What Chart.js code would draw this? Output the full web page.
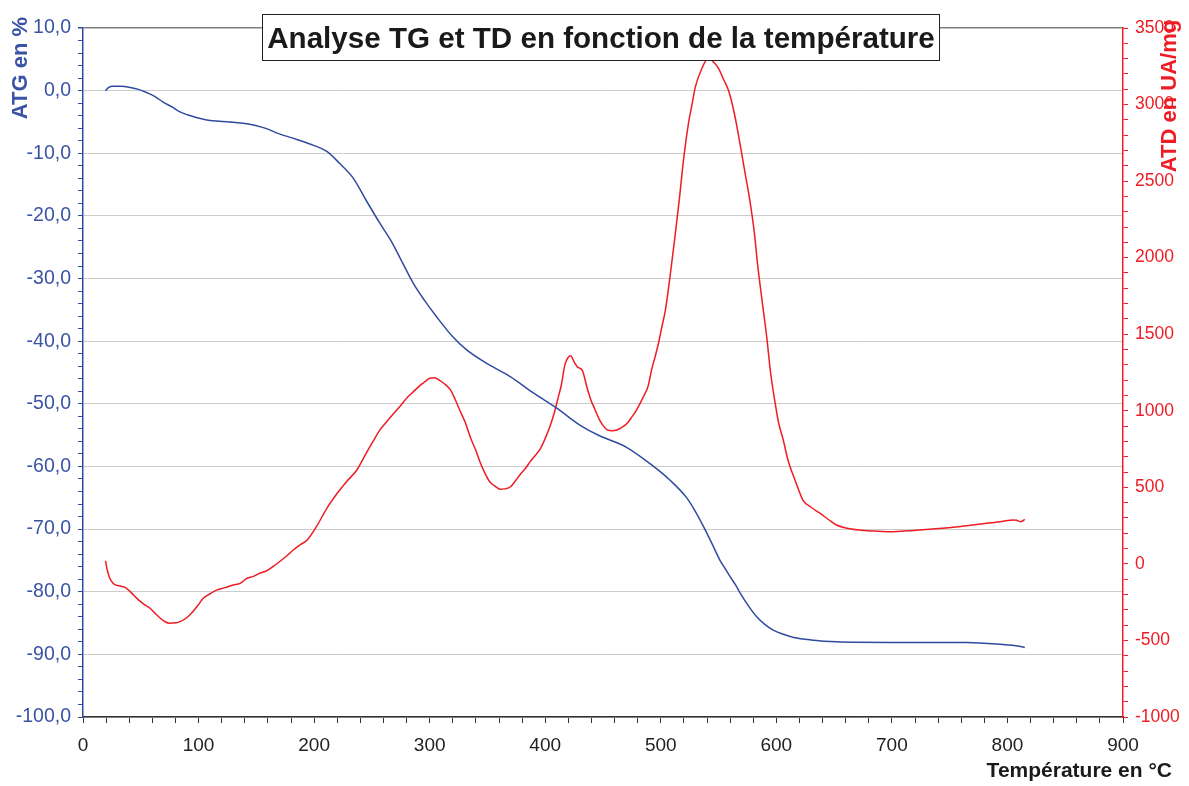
<!DOCTYPE html>
<html lang="fr">
<head>
  <meta charset="UTF-8">
  <title>Analyse TG et TD</title>
  <script src="https://cdn.jsdelivr.net/npm/chart.js@4.4.0/dist/chart.umd.min.js"></script>
  <style>
    body { margin: 0; background: #ffffff; }
    #wrap { width: 1189px; height: 786px; }
  </style>
</head>
<body>
<div id="wrap"><canvas id="myChart" width="1189" height="786"></canvas></div>

<script>
// ATG : perte de masse (%) en fonction de la température (°C)
var tgTemp = [19.5, 22, 26, 33, 41, 48, 55, 62, 69, 77, 84, 91, 98, 105, 112, 127, 142, 156, 170, 185,
  199, 211, 222, 234, 245, 257, 266, 276, 286, 296, 306, 320, 332, 349, 370, 390, 410, 430, 447, 470,
  491, 508, 522, 530, 537, 544, 551, 556, 560, 565, 569, 576, 583, 590, 597, 606, 615, 630, 652, 700,
  765, 794, 810, 815];
var tgVal = [0.0, 0.5, 0.7, 0.7, 0.5, 0.2, -0.3, -0.9, -1.8, -2.6, -3.4, -3.9, -4.3, -4.6, -4.8, -5.0, -5.3, -5.9, -6.9, -7.8,
  -8.7, -9.7, -11.6, -14.0, -17.5, -21.2, -23.8, -27.3, -30.8, -33.6, -36.1, -39.3, -41.4, -43.5, -45.7, -48.3, -50.7, -53.4, -55.1, -56.9,
  -59.6, -62.2, -64.9, -67.2, -69.6, -72.2, -74.9, -76.4, -77.6, -79.0, -80.3, -82.3, -84.0, -85.2, -86.1, -86.8, -87.3, -87.7, -88.0, -88.1,
  -88.1, -88.4, -88.7, -88.9];

// ATD : signal en UA/mg
var tdTemp = [19.5, 21, 23, 26, 29, 32, 36, 40, 44, 49, 54, 58, 62, 67, 71, 75, 80, 84, 90, 95,
  100, 104, 110, 116, 123, 130, 136, 142, 147, 153, 159, 165, 170, 176, 182, 188, 194, 202, 211, 220,
  228, 237, 245, 251, 257, 263, 269, 275, 280, 286, 292, 296, 300, 304, 309, 313, 318, 322, 326, 331,
  335, 340, 344, 348, 352, 357, 361, 365, 370, 374, 378, 383, 387, 391, 396, 400, 404, 408, 411, 414,
  417, 420, 422, 425, 428, 432, 436, 440, 442, 447, 450, 453, 458, 462, 466, 471, 475, 479, 485, 489,
  492, 495, 498, 501, 504, 508, 512, 516, 520, 524, 527, 530, 535, 541, 546, 550, 554, 559, 564, 569,
  573, 577, 581, 584, 588, 592, 595, 599, 602, 606, 610, 615, 619, 623, 630, 638, 645, 652, 660, 672,
  685, 696, 710, 724, 738, 753, 768, 782, 795, 805, 808, 811, 813, 815];
var tdVal = [20, -40, -90, -127, -140, -144, -152, -175, -205, -242, -270, -290, -320, -355, -378, -388, -385, -377, -350, -312,
  -265, -225, -195, -170, -155, -138, -127, -94, -83, -61, -45, -15, 14, 50, 91, 125, 156, 243, 363, 461,
  537, 613, 722, 800, 875, 930, 984, 1035, 1082, 1125, 1168, 1190, 1212, 1215, 1197, 1175, 1136, 1075, 1005, 920,
  831, 740, 657, 590, 537, 505, 487, 490, 504, 540, 581, 625, 668, 705, 755, 820, 896, 990, 1080, 1170,
  1300, 1350, 1360, 1320, 1285, 1266, 1157, 1060, 1027, 940, 905, 879, 870, 875, 890, 918, 960, 1005, 1092, 1160,
  1266, 1350, 1441, 1550, 1658, 1876, 2120, 2377, 2660, 2878, 3000, 3117, 3226, 3300, 3275, 3237, 3170, 3084, 2930, 2725,
  2550, 2377, 2160, 1941, 1700, 1462, 1250, 1049, 920, 809, 680, 570, 490, 417, 370, 330, 290, 254, 235, 221,
  214, 210, 214, 221, 230, 239, 252, 265, 277, 287, 285, 276, 280, 291];

var titre = 'Analyse TG et TD en fonction de la température';
var titreATG = 'ATG en %';
var titreATD = 'ATD en UA/mg';
var titreX = 'Température en °C';

var bleu = '#2f4b9f';
var bleuTexte = '#3a53a4';
var rouge = '#ee1c24';

function toPoints(xs, ys) {
  var pts = [];
  for (var i = 0; i < xs.length; i++) pts.push({ x: xs[i], y: ys[i] });
  return pts;
}

Chart.defaults.font.family = '"Liberation Sans", Arial, sans-serif';

// titre encadré + titres des axes, dessinés par-dessus le graphique
var titres = {
  id: 'titres',
  afterDraw: function(chart) {
    var c = chart.ctx;
    c.save();

    c.font = 'bold 29.6px "Liberation Sans", Arial, sans-serif';
    c.fillStyle = '#ffffff';
    c.fillRect(262, 14, 678, 47);
    c.strokeStyle = '#222222';
    c.lineWidth = 1;
    c.strokeRect(262.5, 14.5, 677, 46);
    c.fillStyle = '#1a1a1a';
    c.textAlign = 'center';
    c.textBaseline = 'alphabetic';
    c.fillText(titre, 601, 48);

    c.font = 'bold 22px "Liberation Sans", Arial, sans-serif';
    c.textBaseline = 'middle';

    c.save();
    c.translate(21, 68);
    c.rotate(-Math.PI / 2);
    c.fillStyle = bleuTexte;
    c.fillText(titreATG, 0, 0);
    c.restore();

    c.save();
    c.translate(1170, 96);
    c.rotate(-Math.PI / 2);
    c.fillStyle = rouge;
    c.fillText(titreATD, 0, 0);
    c.restore();

    c.font = 'bold 21px "Liberation Sans", Arial, sans-serif';
    c.textAlign = 'right';
    c.textBaseline = 'alphabetic';
    c.fillStyle = '#1a1a1a';
    c.fillText(titreX, 1172, 777);

    c.restore();
  }
};

var ctx = document.getElementById('myChart').getContext('2d');
var chart = new Chart(ctx, {
  type: 'line',
  data: {
    datasets: [{
      label: 'ATG',
      data: toPoints(tgTemp, tgVal),
      yAxisID: 'yTG',
      borderColor: bleu,
      borderWidth: 1.5,
      pointRadius: 0,
      cubicInterpolationMode: 'monotone',
      fill: false
    }, {
      label: 'ATD',
      data: toPoints(tdTemp, tdVal),
      yAxisID: 'yTD',
      borderColor: rouge,
      borderWidth: 1.5,
      pointRadius: 0,
      cubicInterpolationMode: 'monotone',
      fill: false
    }]
  },
  options: {
    responsive: false,
    animation: false,
    devicePixelRatio: 1,
    layout: { padding: { top: 28, left: 0, right: 0, bottom: 0 } },
    plugins: {
      legend: { display: false },
      tooltip: { enabled: false },
      title: { display: false }
    },
    scales: {
      x: {
        type: 'linear',
        position: 'bottom',
        min: 0,
        max: 900,
        afterFit: function(s) { s.height = 69; },
        ticks: {
          stepSize: 20,
          maxTicksLimit: 100,
          autoSkip: false,
          maxRotation: 0,
          minRotation: 0,
          padding: 11,
          color: '#222222',
          font: { size: 19 },
          callback: function(v) { return v % 100 === 0 ? String(v) : ''; }
        },
        grid: {
          drawOnChartArea: false,
          tickLength: 6,
          tickColor: '#333333'
        },
        border: { color: '#333333', width: 1.5 }
      },
      yTG: {
        type: 'linear',
        position: 'left',
        min: -100,
        max: 10,
        afterFit: function(s) { s.width = 83; },
        ticks: {
          stepSize: 2,
          maxTicksLimit: 100,
          autoSkip: false,
          padding: 7,
          color: bleuTexte,
          font: { size: 19.5 },
          callback: function(v) { return v % 10 === 0 ? v.toFixed(1).replace('.', ',') : ''; }
        },
        grid: {
          tickLength: 5,
          tickColor: bleu,
          color: function(c) {
            if (!c.tick || c.tick.value % 10 !== 0) return 'rgba(0,0,0,0)';
            return c.tick.value === 10 ? '#808080' : '#cccccc';
          },
          lineWidth: function(c) { return c.tick && c.tick.value === 10 ? 1.5 : 1; }
        },
        border: { color: bleu, width: 1.5 }
      },
      yTD: {
        type: 'linear',
        position: 'right',
        min: -1000,
        max: 3500,
        afterFit: function(s) { s.width = 66; },
        ticks: {
          stepSize: 100,
          maxTicksLimit: 100,
          autoSkip: false,
          padding: 7,
          color: rouge,
          font: { size: 17.5 },
          callback: function(v) { return v % 500 === 0 ? String(v) : ''; }
        },
        grid: {
          drawOnChartArea: false,
          tickLength: 5,
          tickColor: rouge
        },
        border: { color: rouge, width: 1.5 }
      }
    }
  },
  plugins: [titres]
});
</script>
</body>
</html>
